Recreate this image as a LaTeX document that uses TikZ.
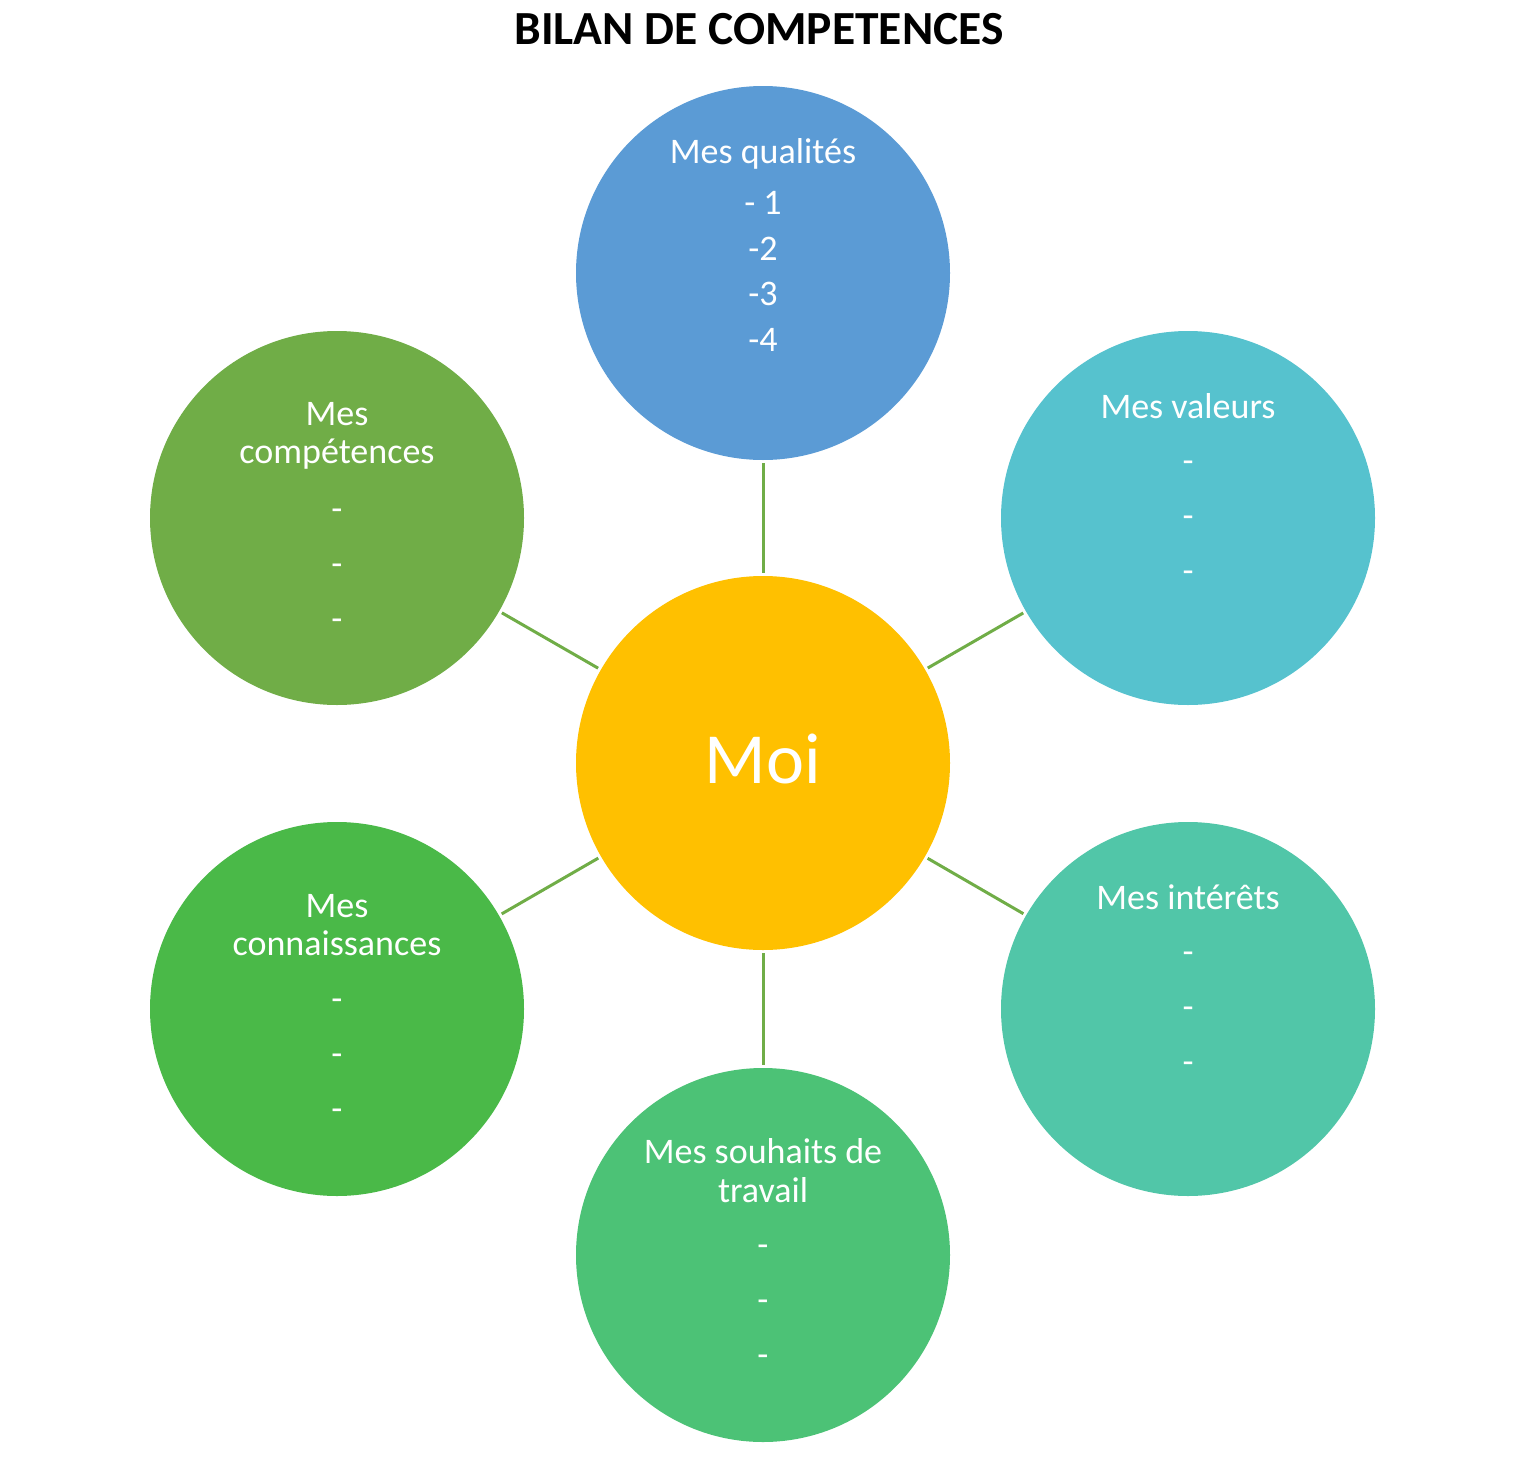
\documentclass[tikz,border=0pt]{standalone}
\usepackage{fontspec}
\setmainfont{Carlito}
\definecolor{cQual}{HTML}{5B9BD5}
\definecolor{cVal}{HTML}{56C2CE}
\definecolor{cInt}{HTML}{51C6A8}
\definecolor{cSouh}{HTML}{4CC276}
\definecolor{cConn}{HTML}{4AB948}
\definecolor{cComp}{HTML}{70AD47}
\definecolor{cMoi}{HTML}{FFC000}
\definecolor{cLine}{HTML}{70AD47}
\tikzset{
  bubble/.style={circle, minimum size=374pt, inner sep=0pt, draw=none},
  txt/.style={anchor=base, inner sep=0pt, text=white, font=\fontsize{36}{42}\selectfont},
  link/.style={draw=cLine, line width=3pt, shorten >=3pt, shorten <=3pt}
}
\begin{document}
\begin{tikzpicture}[x=1pt,y=-1pt]
\useasboundingbox (0,0) rectangle (1523,1480);
\node[anchor=base, inner sep=0pt, font=\fontsize{47.5}{52}\selectfont\bfseries] (title) at (759,45) {BILAN DE COMPETENCES};

\node[bubble, fill=cMoi] (moi) at (763,763) {};
\node[bubble, fill=cQual] (qual) at (763,273) {};
\node[bubble, fill=cVal] (val) at (1188,518) {};
\node[bubble, fill=cInt] (int) at (1188,1009) {};
\node[bubble, fill=cSouh] (souh) at (763,1255) {};
\node[bubble, fill=cConn] (conn) at (337,1009) {};
\node[bubble, fill=cComp] (comp) at (337,518) {};

\draw[link] (moi) -- (qual);
\draw[link] (moi) -- (val);
\draw[link] (moi) -- (int);
\draw[link] (moi) -- (souh);
\draw[link] (moi) -- (conn);
\draw[link] (moi) -- (comp);

\node[anchor=base, inner sep=0pt, text=white, font=\fontsize{72}{80}\selectfont] (moitxt) at (763,783) {Moi};

% qualites
\node[txt] (q0) at (763,163) {Mes qualités};
\node[txt] (q1) at (763,214) {- 1};
\node[txt] (q2) at (763,260) {-2};
\node[txt] (q3) at (763,305) {-3};
\node[txt] (q4) at (763,351) {-4};

% valeurs
\node[txt] (v0) at (1188,418) {Mes valeurs};
\node[txt] (v1) at (1188,472) {-};
\node[txt] (v2) at (1188,527) {-};
\node[txt] (v3) at (1188,582) {-};

% interets
\node[txt] (i0) at (1188,909) {Mes intérêts};
\node[txt] (i1) at (1188,963) {-};
\node[txt] (i2) at (1188,1018) {-};
\node[txt] (i3) at (1188,1073) {-};

% souhaits
\node[txt] (s0) at (763,1163) {Mes souhaits de};
\node[txt] (s1) at (763,1202) {travail};
\node[txt] (s2) at (763,1256) {-};
\node[txt] (s3) at (763,1311) {-};
\node[txt] (s4) at (763,1366) {-};

% connaissances
\node[txt] (c0) at (337,917) {Mes};
\node[txt] (c1) at (337,955) {connaissances};
\node[txt] (c2) at (337,1010) {-};
\node[txt] (c3) at (337,1065) {-};
\node[txt] (c4) at (337,1120) {-};

% competences
\node[txt] (k0) at (337,425) {Mes};
\node[txt] (k1) at (337,463) {compétences};
\node[txt] (k2) at (337,520) {-};
\node[txt] (k3) at (337,575) {-};
\node[txt] (k4) at (337,630) {-};
\end{tikzpicture}
\end{document}
